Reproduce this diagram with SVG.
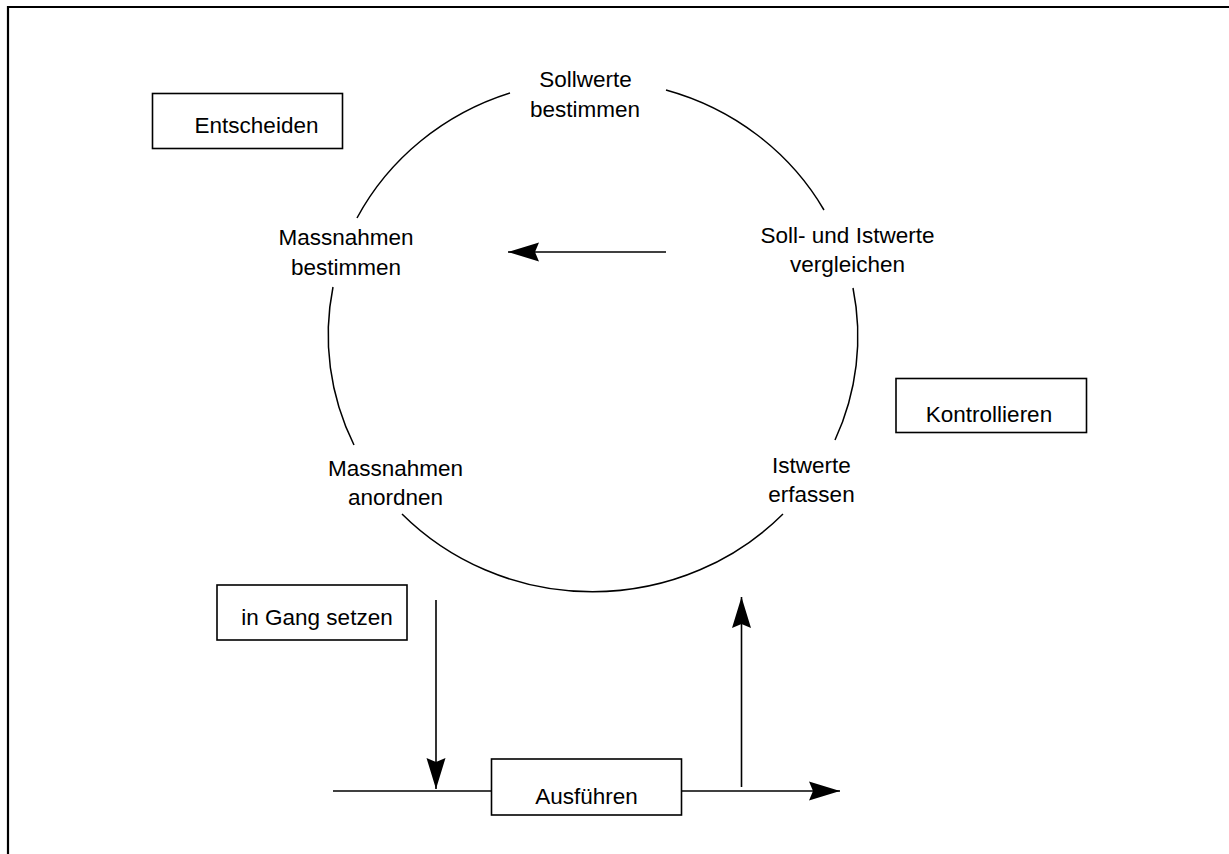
<svg xmlns="http://www.w3.org/2000/svg" width="1229" height="854" viewBox="0 0 1229 854">
<style>
text{font-family:"Liberation Sans",Arial,sans-serif;font-size:22.5px;fill:#000;text-anchor:middle}
.box{fill:#fff;stroke:#000;stroke-width:1.6}
.ln{fill:none;stroke:#000;stroke-width:1.6}
.arc{fill:none;stroke:#000;stroke-width:1.5}
</style>
<defs>
<marker id="ah" viewBox="-31 -10 32 20" refX="0" refY="0" markerWidth="32" markerHeight="20" markerUnits="userSpaceOnUse" orient="auto">
<path d="M0,0 L-31,-9.5 L-27,0 L-31,9.5 Z" fill="#000"/>
</marker>
</defs>
<rect width="1229" height="854" fill="#fff"/>
<path d="M8,854 V7 H1229" fill="none" stroke="#000" stroke-width="2.2"/>
<g id="cycle">
<path class="arc" d="M666,90 A265,255 0 0 1 824,210"/>
<path class="arc" d="M853,288 A265,255 0 0 1 835,440"/>
<path class="arc" d="M783,514 A265,255 0 0 1 402,514"/>
<path class="arc" d="M354,445 A265,255 0 0 1 333,287"/>
<path class="arc" d="M357,218 A265,255 0 0 1 510,93"/>
</g>
<g id="connectors">
<line class="ln" x1="666" y1="252" x2="508" y2="252" marker-end="url(#ah)"/>
<line class="ln" x1="436" y1="600" x2="436" y2="789" marker-end="url(#ah)"/>
<line class="ln" x1="741.5" y1="787" x2="741.5" y2="597" marker-end="url(#ah)"/>
<line class="ln" x1="333" y1="791" x2="492" y2="791"/>
<line class="ln" x1="681" y1="791" x2="840" y2="791" marker-end="url(#ah)"/>
</g>
<g id="sollwerte"><text x="585.5" y="87.3">Sollwerte</text><text x="585" y="116.7">bestimmen</text></g>
<g id="massnahmen-bestimmen"><text x="346" y="245">Massnahmen</text><text x="346" y="275">bestimmen</text></g>
<g id="vergleichen"><text x="847.5" y="243.3">Soll- und Istwerte</text><text x="847.5" y="271.7">vergleichen</text></g>
<g id="massnahmen-anordnen"><text x="395.5" y="475.7">Massnahmen</text><text x="395.5" y="505">anordnen</text></g>
<g id="istwerte"><text x="811.5" y="473.3">Istwerte</text><text x="811.5" y="502.3">erfassen</text></g>
<g id="entscheiden"><rect class="box" x="152.5" y="93.5" width="190" height="55"/><text x="256.5" y="133.3">Entscheiden</text></g>
<g id="kontrollieren"><rect class="box" x="896" y="378.5" width="190.5" height="54"/><text x="989" y="421.7">Kontrollieren</text></g>
<g id="in-gang-setzen"><rect class="box" x="217" y="585" width="190" height="55"/><text x="317" y="625">in Gang setzen</text></g>
<g id="ausfuehren"><rect class="box" x="491.5" y="759" width="190" height="56"/><text x="586.5" y="804">Ausführen</text></g>
</svg>
